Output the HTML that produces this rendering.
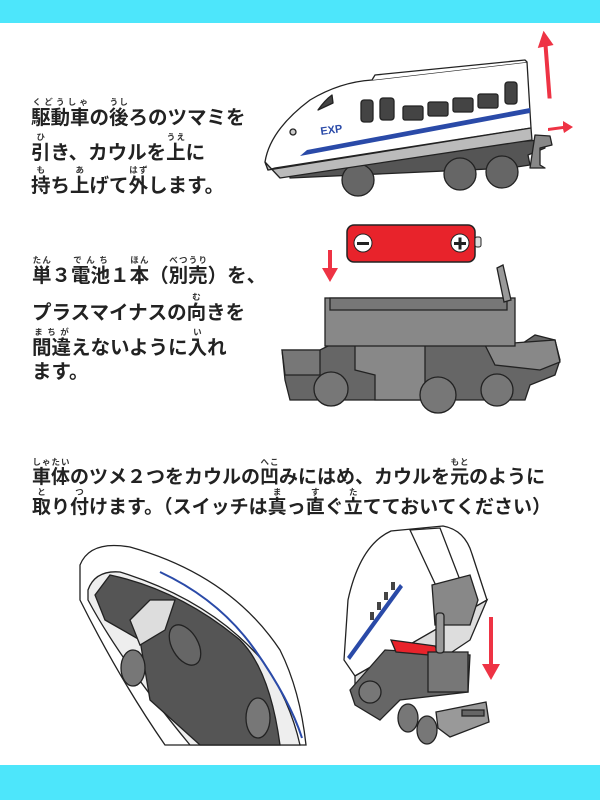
<!DOCTYPE html>
<html><head><meta charset="utf-8"><style>
html,body{margin:0;padding:0}
body{width:600px;height:800px;position:relative;background:#fff;overflow:hidden;font-family:"Liberation Sans","Noto Sans CJK JP",sans-serif;}
.bar{position:absolute;left:0;width:600px;background:#4de6fb}
.t{position:absolute;font-size:19.5px;font-weight:bold;color:#222;line-height:20px;white-space:nowrap;letter-spacing:0px}
.s{font-size:19px}
ruby{ruby-position:over}
rt{font-size:8.5px;font-weight:bold;color:#333;line-height:9px}
svg{position:absolute;left:0;top:0}
</style></head><body>
<div class="bar" style="top:0;height:23px"></div>
<div class="bar" style="top:765px;height:35px"></div>

<div class="t" style="left:31px;top:97px"><ruby>駆動車<rt>くどうしゃ</rt></ruby>の<ruby>後<rt>うし</rt></ruby>ろのツマミを</div>
<div class="t" style="left:31px;top:132px"><ruby>引<rt>ひ</rt></ruby>き、カウルを<ruby>上<rt>うえ</rt></ruby>に</div>
<div class="t" style="left:31px;top:165px"><ruby>持<rt>も</rt></ruby>ち<ruby>上<rt>あ</rt></ruby>げて<ruby>外<rt>はず</rt></ruby>します。</div>

<div class="t" style="left:32px;top:255px"><ruby>単<rt>たん</rt></ruby>３<ruby>電池<rt>でんち</rt></ruby>１<ruby>本<rt>ほん</rt></ruby>（<ruby>別売<rt>べつうり</rt></ruby>）を、</div>
<div class="t" style="left:32px;top:292px">プラスマイナスの<ruby>向<rt>む</rt></ruby>きを</div>
<div class="t" style="left:32px;top:327px"><ruby>間違<rt>まちが</rt></ruby>えないように<ruby>入<rt>い</rt></ruby>れ</div>
<div class="t" style="left:32px;top:362px">ます。</div>

<div class="t s" style="left:32px;top:457px"><ruby>車体<rt>しゃたい</rt></ruby>のツメ２つをカウルの<ruby>凹<rt>へこ</rt></ruby>みにはめ、カウルを<ruby>元<rt>もと</rt></ruby>のように</div>
<div class="t s" style="left:32px;top:487px"><ruby>取<rt>と</rt></ruby>り<ruby>付<rt>つ</rt></ruby>けます。（スイッチは<ruby>真<rt>ま</rt></ruby>っ<ruby>直<rt>す</rt></ruby>ぐ<ruby>立<rt>た</rt></ruby>てておいてください）</div>

<svg width="600" height="800" viewBox="0 0 600 800">
<g stroke="#222" stroke-width="1.3" stroke-linejoin="round">
<!-- Train 1 -->
<path d="M290 160 L540 140 L545 148 L528 155 L530 165 L510 168 L290 178 Z" fill="#555"/>
<circle cx="358" cy="180" r="16" fill="#666"/>
<circle cx="460" cy="174" r="16" fill="#666"/>
<circle cx="502" cy="172" r="16" fill="#666"/>
<path d="M535 135 L550 136 L552 145 L540 148 L540 165 L545 168 L530 168 Z" fill="#888"/>
<path d="M268 170 L265 162 Q270 130 310 100 Q340 82 372 80 L527 62 L531 128 L275 168 Z" fill="#fff"/>
<path d="M265 162 L268 170 L531 128 L532 140 L280 178 Z" fill="#bbb"/>
<path d="M372 80 L375 75 L525 60 L527 62" fill="#fff"/>
<path d="M332 95 Q325 100 318 110 L333 103 Z" fill="#444"/>
<path d="M307 150 L530 108 L530 113 L300 156 Z" fill="#2a4aa8" stroke="none"/>
<g fill="#444">
<rect x="361" y="100" width="12" height="22" rx="3"/>
<rect x="380" y="98" width="14" height="22" rx="3"/>
<rect x="403" y="106" width="20" height="14" rx="2"/>
<rect x="428" y="102" width="20" height="14" rx="2"/>
<rect x="453" y="98" width="20" height="14" rx="2"/>
<rect x="478" y="94" width="20" height="14" rx="2"/>
<rect x="505" y="82" width="12" height="22" rx="3"/>
</g>
<circle cx="293" cy="132" r="3" fill="#ccc"/>
</g>
<text x="321" y="135" font-family="Liberation Sans" font-weight="bold" font-size="11" fill="#2a4aa8" transform="rotate(-8 321 135)">EXP</text>
<!-- red arrows -->
<g fill="#ee3344" stroke="none">
<path d="M549 97 L545 45 L540 46 L544 34 L551 44 L546 45 L550 97 Z" stroke="#ee3344" stroke-width="3"/>
<path d="M548 128 L563 126 L563 121 L573 127 L564 133 L563 129 L548 131 Z"/>
</g>
<!-- battery -->
<rect x="347" y="225" width="128" height="37" rx="7" fill="#e8232b" stroke="#222" stroke-width="1.5"/>
<rect x="475" y="237" width="6" height="10" rx="2" fill="#ddd" stroke="#222"/>
<circle cx="363" cy="243" r="9" fill="#fff" stroke="#222"/>
<rect x="357" y="242" width="12" height="3" fill="#222"/>
<circle cx="460" cy="243" r="9" fill="#fff" stroke="#222"/>
<rect x="454" y="242" width="12" height="3" fill="#222"/><rect x="458.5" y="237.5" width="3" height="12" fill="#222"/>
<path d="M328 250 L332 250 L332 268 L338 268 L330 282 L322 268 L328 268 Z" fill="#ee3344"/>
<!-- chassis -->
<g stroke="#222" stroke-width="1.3" fill="#888">
<path d="M282 350 L320 350 L330 345 L520 345 L535 335 L555 340 L560 360 L555 375 L530 385 L525 400 L290 400 L285 380 Z" fill="#666"/>
<path d="M282 350 L320 350 L320 375 L285 375 Z" fill="#777"/>
<path d="M355 345 L425 345 L425 400 L375 400 L375 375 L355 370 Z" fill="#888"/>
<path d="M485 345 L555 340 L560 362 L540 370 L495 365 Z" fill="#888"/>
<circle cx="331" cy="389" r="17" fill="#777"/>
<circle cx="438" cy="395" r="18" fill="#777"/>
<circle cx="497" cy="390" r="16" fill="#777"/>
<rect x="325" y="298" width="190" height="48" fill="#888"/>
<path d="M330 298 L330 310 L507 310 L507 298 Z" fill="#777"/>
<path d="M497 268 L503 265 L511 300 L504 302 Z" fill="#999"/>
</g>
<!-- bottom left shell -->
<g stroke="#222" stroke-width="1.3">
<path d="M80 565 Q90 540 130 547 Q230 575 280 650 Q300 690 306 745 L165 745 Q120 680 80 600 Z" fill="#fff"/>
<path d="M88 590 Q95 570 120 572 Q210 600 262 660 Q290 700 300 745 L190 745 Q120 660 88 600 Z" fill="#eee"/>
<path d="M95 595 L110 575 Q180 590 240 640 Q270 670 280 745 L200 745 L150 700 L140 640 L105 620 Z" fill="#555"/>
<path d="M130 620 L150 600 L175 600 L165 630 L140 645 Z" fill="#ddd"/>
<ellipse cx="185" cy="645" rx="13" ry="22" fill="#666" transform="rotate(-30 185 645)"/>
<ellipse cx="133" cy="668" rx="12" ry="18" fill="#777"/>
<ellipse cx="258" cy="718" rx="12" ry="20" fill="#777"/>
</g>
<path d="M160 572 Q220 600 255 650 Q290 700 302 738" fill="none" stroke="#2a4aa8" stroke-width="2"/>
<!-- bottom right car -->
<g stroke="#222" stroke-width="1.3">
<path d="M344 660 L348 600 Q360 545 391 531 L443 526 Q465 530 472 554 L487 600 L355 676 Z" fill="#fff"/>
<path d="M355 676 L487 600 L470 640 L380 700 L355 690 Z" fill="#ddd"/>
<path d="M410 530 L440 528 L460 580 L438 590 Z" fill="#fff"/>
<path d="M432 585 L470 575 L478 600 L470 625 L435 625 Z" fill="#888"/>
<path d="M350 690 L385 650 L470 655 L468 692 L400 700 L380 720 L355 705 Z" fill="#666"/>
<path d="M391 640 L435 646 L440 656 L396 652 Z" fill="#e8232b"/>
<rect x="428" y="652" width="40" height="40" fill="#777"/>
<rect x="436" y="613" width="8" height="40" rx="3" fill="#999"/>
<circle cx="370" cy="692" r="11" fill="#777"/>
<ellipse cx="408" cy="718" rx="10" ry="14" fill="#777"/>
<ellipse cx="427" cy="730" rx="10" ry="14" fill="#777"/>
<path d="M436 712 L486 702 L489 722 L450 737 L438 728 Z" fill="#999"/>
<rect x="462" y="710" width="22" height="6" fill="#666"/>
</g>
<path d="M347 657 L400 584 L403 587 L350 660 Z" fill="#2a4aa8"/>
<g fill="#444"><rect x="370" y="612" width="4" height="8"/><rect x="377" y="602" width="4" height="8"/><rect x="384" y="592" width="4" height="8"/><rect x="391" y="582" width="4" height="8"/></g>
<path d="M489 617 L493 617 L493 664 L500 664 L491 680 L482 664 L489 664 Z" fill="#ee3344"/>
</svg>
</body></html>
